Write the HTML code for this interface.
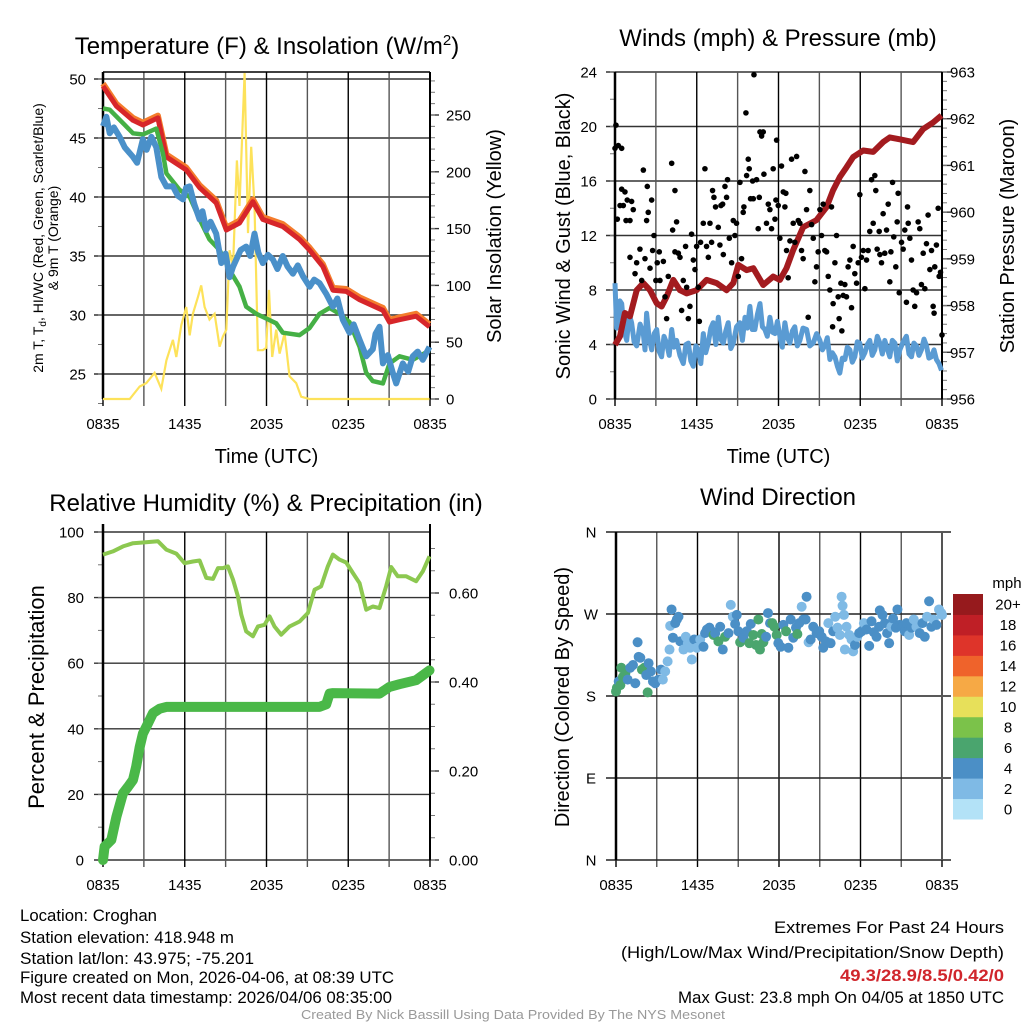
<!DOCTYPE html>
<html><head><meta charset="utf-8"><style>
html,body{margin:0;padding:0;background:#fff;}
svg{display:block;font-family:"Liberation Sans",Arial,sans-serif;}
</style></head><body>
<svg id="root" width="1024" height="1024" viewBox="0 0 1024 1024" xmlns="http://www.w3.org/2000/svg">
<g id="p1"></g>
<g id="p2"></g>
<g id="p3"></g>
<g id="p4"></g>
<g id="info">
<text x="20" y="921" font-size="17" textLength="137" lengthAdjust="spacingAndGlyphs">Location: Croghan</text>
<text x="20" y="943" font-size="17" textLength="214" lengthAdjust="spacingAndGlyphs">Station elevation: 418.948 m</text>
<text x="20" y="964" font-size="17" textLength="234" lengthAdjust="spacingAndGlyphs">Station lat/lon: 43.975; -75.201</text>
<text x="20" y="983" font-size="17" textLength="374" lengthAdjust="spacingAndGlyphs">Figure created on Mon, 2026-04-06, at 08:39 UTC</text>
<text x="20" y="1003" font-size="17" textLength="372" lengthAdjust="spacingAndGlyphs">Most recent data timestamp: 2026/04/06 08:35:00</text>
<text x="1004" y="933" font-size="17" text-anchor="end" textLength="230" lengthAdjust="spacingAndGlyphs">Extremes For Past 24 Hours</text>
<text x="1004" y="958" font-size="17" text-anchor="end" textLength="383" lengthAdjust="spacingAndGlyphs">(High/Low/Max Wind/Precipitation/Snow Depth)</text>
<text x="1004" y="981" font-size="17" font-weight="bold" fill="#d0262c" text-anchor="end" textLength="164" lengthAdjust="spacingAndGlyphs">49.3/28.9/8.5/0.42/0</text>
<text x="1004" y="1003" font-size="17" text-anchor="end" textLength="326" lengthAdjust="spacingAndGlyphs">Max Gust: 23.8 mph On 04/05 at 1850 UTC</text>
<text x="513" y="1019" font-size="13" fill="#999" text-anchor="middle" textLength="424" lengthAdjust="spacingAndGlyphs">Created By Nick Bassill Using Data Provided By The NYS Mesonet</text>
</g>
</svg>
<script>
// ---------- data ----------
const timeTicks = ["0835","1435","2035","0235","0835"];
const tempT = [0,0.98,2.2,2.93,4.03,4.65,6.11,7.09,8.31,9.05,10.02,11,11.73,13.2,14.43,15.16,16.14,16.87,17.85,18.83,20.54,21.03,21.76,22.98,23.96];
const tempV = [49.4,47.7,46.5,46.1,46.7,43.4,42.3,40.8,39.5,37.2,37.8,39.6,38.1,37.5,36.4,35.5,34.1,32.1,32.0,31.3,30.4,29.4,29.6,29.9,29.0];
const temp9mV = [49.6,47.9,46.7,46.3,46.9,43.6,42.5,41.0,39.7,37.4,38.0,39.8,38.3,37.7,36.6,35.7,34.3,32.3,32.2,31.5,30.6,29.6,29.8,30.1,29.2];
const dewT = [0,0.49,2.2,2.93,3.91,4.4,4.65,5.62,6.36,7.09,7.82,8.56,9.29,10.02,10.51,11.25,11.98,12.71,13.2,14.43,15.16,15.89,16.63,17.36,18.09,18.83,19.32,19.8,20.54,21.03,21.76,22.74,23.96];
const dewV = [47.5,47.4,45.4,45.3,45.8,43.7,42,40.6,40,38.1,36.4,35.5,33.8,32.4,30.7,30.1,29.7,29.3,28.5,28.3,28.9,30.1,30.6,30.1,29.4,27.3,25.1,24.4,24.2,25.9,26.5,26.2,27.0];
const chillT = [0,0.25,0.49,0.8,1.22,1.6,2.2,2.5,2.93,3.2,3.55,3.91,4.28,4.65,5.13,5.5,5.87,6.1,6.36,6.7,7.09,7.3,7.58,7.9,8.31,8.68,9.0,9.29,9.55,9.78,10.1,10.51,10.8,11.12,11.4,11.73,12.1,12.47,12.8,13.2,13.55,13.94,14.3,14.67,15.16,15.5,15.89,16.38,16.87,17.2,17.6,18.09,18.4,18.83,19.32,19.8,20.0,20.29,20.54,20.9,21.27,21.52,22.0,22.4,22.74,23.1,23.47,23.96];
const chillV = [46,46.8,45.4,45.9,45.1,44.2,43.4,42.9,44.9,44.0,45.1,44.2,41.7,40.9,40.9,40.1,39.8,40.8,40.9,39.4,38.1,38.8,37.2,37.9,36.9,34.4,35.2,33.2,34.1,34.7,35.5,35.8,35.0,36.9,35.3,34.4,35.1,34.7,33.9,35,34.1,33.5,34.2,33.3,32.4,33.0,32.7,31.8,30.7,31.4,29.6,28.5,29.2,27.9,26.5,27.1,28.4,29,25.9,26.6,25.1,24.2,25.9,25.2,26.5,26.9,26.2,27.3];
const solarT = [0,1.96,2.69,3.18,3.79,4.28,4.65,5.13,5.38,5.75,6.11,6.36,6.6,6.97,7.21,7.46,7.82,8.19,8.56,8.8,9.05,9.29,9.54,9.83,10.02,10.39,10.64,10.88,11.12,11.37,11.73,11.98,12.18,12.42,12.71,12.96,13.33,13.69,14.18,14.55,15.16,23.96];
const solarV = [0,0,11,14,23,9,34,52,37,65,81,56,75,90,100,81,70,75,46,55,61,131,116,210,170,287,146,222,170,43,43,45,96,37,61,40,58,20,14,2,0,0];

const presT = [0,0.37,0.73,1.1,1.59,2.08,2.57,3.06,3.42,3.79,4.28,4.77,5.26,5.99,6.72,7.46,8.19,8.68,9.05,9.66,10.15,10.88,11.61,12.1,12.59,13.08,13.81,14.79,15.53,16.01,16.5,16.99,17.48,18.22,18.95,19.68,20.17,20.9,21.88,22.62,23.35,23.96];
const presV = [957.16,957.34,957.84,957.77,958.33,958.48,958.33,958.05,957.98,958.19,958.55,958.33,958.26,958.33,958.55,958.48,958.33,958.48,958.87,958.76,958.8,958.44,958.62,958.55,958.8,959.19,959.68,959.83,960.11,960.47,960.75,960.96,961.18,961.32,961.29,961.5,961.6,961.56,961.5,961.78,961.92,962.07];
const windT = [0,0.12,0.24,0.36,0.49,0.67,0.86,1.04,1.22,1.4,1.59,1.84,2.08,2.2,2.32,2.5,2.69,2.88,3.06,3.24,3.42,3.6,3.79,3.98,4.16,4.34,4.52,4.76,5.01,5.2,5.38,5.56,5.75,5.93,6.11,6.3,6.48,6.66,6.85,7.03,7.21,7.4,7.58,7.76,7.95,8.13,8.31,8.5,8.68,8.92,9.17,9.35,9.54,9.72,9.9,10.08,10.27,10.45,10.64,10.82,11,11.18,11.37,11.55,11.74,11.92,12.1,12.28,12.47,12.65,12.84,13.02,13.2,13.38,13.57,13.8,14.06,14.3,14.55,14.8,15.04,15.22,15.4,15.58,15.77,15.95,16.14,16.32,16.5,16.68,16.87,17.05,17.24,17.42,17.6,17.78,17.97,18.15,18.34,18.52,18.7,18.88,19.07,19.25,19.44,19.62,19.8,19.98,20.17,20.35,20.54,20.72,20.9,21.15,21.39,21.58,21.76,21.94,22.13,22.31,22.49,22.68,22.86,23.04,23.23,23.41,23.59,23.78,23.96];
const windV = [8.5,5.2,6,7.2,7,5.0,4.3,6.2,5.6,4.2,3.9,5.5,4.8,3.6,6.3,4.5,3.6,4.8,5.1,3.5,3.1,4.6,4.1,3.2,5.1,3.8,4.3,3.2,2.6,4.0,4.1,2.8,2.4,3.9,3.6,2.6,4.8,3.4,4.1,5.2,5.6,4.0,6,4.4,4.1,5.0,5.6,3.7,4.1,5.3,5.6,4.3,6,5.2,6.8,5.1,5.1,6.2,7,5.3,5.1,4.6,6,4.9,4.8,5.7,4.6,3.8,5.6,4.5,4.1,5.0,5.3,3.9,4.3,5.2,5.1,3.9,4.1,4.8,4.3,3.6,3.9,4.5,2.9,3.4,3.1,2.4,1.9,3.0,2.9,3.8,3.6,2.7,3.1,4.2,4.1,3.0,3.4,4.0,4.3,3.2,3.6,4.6,4.1,3.3,4.3,3.7,3.1,4.3,4.1,2.8,3.6,4.2,4.6,3.3,3.1,4.1,3.9,3.2,3.6,4.4,3.9,3.0,3.1,3.6,2.9,2.6,2.1];
const gustT = [0,0.07,0.24,0.49,0.17,0.37,0.61,0.49,0.73,0.81,0.9,1.1,1.22,1.1,1.34,1.47,1.59,1.83,1.96,2.08,2.2,2.32,2.37,2.44,2.57,2.69,2.76,2.86,3.0,3.1,3.25,3.3,3.55,3.67,3.79,3.91,4.16,4.23,4.4,4.4,4.52,4.65,4.77,4.89,5.01,5.18,5.26,5.38,5.5,5.62,5.75,5.87,5.99,6.11,6.19,6.28,6.48,6.6,6.72,6.85,6.97,7.09,7.16,7.26,7.38,7.58,7.7,7.78,7.9,7.95,8.07,8.19,8.26,8.39,8.56,8.68,8.8,8.92,9.05,9.17,9.29,9.41,9.46,9.61,9.66,9.78,9.85,9.95,10.1,10.15,10.2,10.39,10.51,10.59,10.64,10.76,10.88,10.93,11.12,11.25,11.37,11.49,11.61,11.74,11.81,11.86,11.98,12.1,12.22,12.35,12.47,12.54,12.59,12.71,12.84,12.96,13.08,13.2,13.33,13.45,13.57,13.69,13.81,13.94,14.06,14.18,14.3,14.43,14.55,14.67,14.79,14.91,15.04,15.16,15.28,15.4,15.53,15.65,15.77,15.89,15.97,16.01,16.14,16.26,16.38,16.45,16.58,16.65,16.75,16.87,16.99,17.11,17.24,17.36,17.48,17.6,17.73,17.85,17.97,18.09,18.22,18.34,18.46,18.58,18.7,18.83,18.95,19.07,19.14,19.24,19.39,19.44,19.56,19.68,19.8,19.93,20.05,20.17,20.25,20.37,20.46,20.61,20.71,20.78,20.86,21.03,21.15,21.27,21.39,21.47,21.52,21.64,21.76,21.88,22,22.13,22.25,22.37,22.49,22.62,22.74,22.86,22.98,23.11,23.23,23.35,23.42,23.47,23.59,23.72,23.79,23.89,24.0];
const gustV = [18.4,20.1,18.6,18.4,13.2,14.2,14.2,15.4,15.2,13.1,14.6,13.1,14.5,10.4,13.9,9.2,10,11,8.7,16.8,10.3,13.1,15.6,13.7,9.6,14.6,10.9,12,8.7,10,10.8,8.7,10.1,7.5,5.9,9,17.3,12.4,15.3,10.8,13,10.7,10.4,6.5,8.7,11.2,8.2,5.9,6.8,12.1,10.2,9.5,11.2,8.2,5.7,11.5,12.9,16.9,11.2,10.4,12.9,11.5,15.3,14.8,14.1,12.6,11.3,14.2,14.3,10.6,15.6,14.8,16.1,11.8,10,13.1,12,12.9,9,15.9,10.3,13.7,14.1,21,16.4,17.6,16.9,14.7,16,14.7,23.8,16.1,12.5,14.8,19.6,19.3,19.6,16.5,12.9,14.3,13.9,12.5,16.9,13.2,14.6,19,14.2,11.8,17.1,15.2,14.1,15.1,10.9,8.9,11.6,17.6,12.9,11.5,17.8,13.1,12.9,10.9,10.3,16.7,13.9,6,15.3,12.8,11.8,8.6,9.7,10.8,13.9,12,14.3,10.9,10.8,9,8,14.1,5.3,7,10,12,7.5,5.9,8.5,5,7.6,8.4,7.5,9.7,10.2,6.7,11.2,9.2,8.5,10,15,10.4,10.9,8.1,10.2,10.9,12.3,16.1,12.9,16.4,15.3,11,12.3,10.6,10,13.6,10.7,12.4,14.3,8.6,10.8,15.9,11.9,9.7,13,15.1,7.8,11.5,11,12.4,7.1,14.1,12.9,11.8,10.2,8,6.8,7.8,13,12.5,8.4,10.7,8.1,11.4,13.5,9.5,10.9,6.8,6.3,9.7,11.3,14,9,9.3,4.7];

const rhT = [0,0.73,1.47,2.2,2.93,4.03,4.65,5.38,5.99,6.6,7.09,7.58,8.07,8.44,8.8,9.17,9.54,9.9,10.15,10.51,11,11.37,11.86,12.22,12.59,13.08,13.69,14.43,15.04,15.53,16.01,16.5,16.87,17.36,17.85,18.34,18.83,19.32,19.8,20.29,20.78,21.15,21.64,22.25,22.98,23.47,23.96];
const rhV = [93.1,94.1,95.6,96.6,96.8,97.2,94.6,93.4,90.5,91,91.3,86,85.7,89,89,89.5,85.5,80.4,74.8,69.7,68.2,71.2,71.7,74.3,71.2,68.7,71.2,72.7,75.3,82.4,83.4,89.5,93.1,91.6,90.7,87.5,84.4,76.3,77.3,76.8,83.4,89.3,86.5,86.5,85,88,92.6];
const precipT = [0,0.12,0.61,0.98,1.47,1.83,2.2,2.44,2.69,2.93,3.3,3.67,4.16,4.65,15.89,16.38,16.63,16.87,20.29,21.03,21.76,22.98,23.47,23.96];
const precipV = [0,0.03,0.045,0.097,0.15,0.164,0.18,0.21,0.254,0.284,0.307,0.33,0.34,0.344,0.344,0.35,0.374,0.375,0.374,0.389,0.395,0.404,0.415,0.426];

const dirT = [0,0.07,0.2,0.32,0.39,0.51,0.69,0.86,1.05,1.25,1.42,1.59,1.67,1.79,1.91,2.08,2.23,2.33,2.4,2.57,2.72,2.89,3.13,3.31,3.45,3.62,3.8,3.94,3.99,4.09,4.19,4.36,4.48,4.6,4.73,4.97,5.14,5.29,5.46,5.58,5.76,5.95,6.2,6.44,6.56,6.69,6.88,7.05,7.18,7.3,7.54,7.67,7.86,8.03,8.28,8.45,8.6,8.77,8.89,9.01,9.14,9.38,9.63,9.82,9.92,10.11,10.31,10.48,10.6,10.73,10.85,11.05,11.19,11.34,11.51,11.66,11.83,11.95,12.12,12.32,12.52,12.69,12.86,13.05,13.25,13.35,13.49,13.67,13.79,13.96,14.03,14.18,14.33,14.52,14.77,14.96,15.14,15.26,15.45,15.63,15.8,15.99,16.14,16.31,16.48,16.61,16.68,16.78,16.85,16.97,17.17,17.34,17.46,17.59,17.76,17.9,18.08,18.25,18.44,18.64,18.81,18.98,19.18,19.37,19.42,19.62,19.79,19.96,20.11,20.28,20.4,20.6,20.72,20.89,21.09,21.26,21.38,21.58,21.75,21.92,22.12,22.36,22.56,22.73,22.9,23.05,23.22,23.39,23.59,23.78,23.95,24];
const dirV = [185,189,196,192,211,201,205,198,211,214,194,239,223,222,209,211,203,184,216,207,196,194,198,209,198,207,218,231,257,275,244,260,264,267,240,231,245,238,233,220,242,233,242,234,249,253,255,251,247,249,240,256,231,245,249,280,267,259,269,251,239,244,251,238,259,247,236,264,231,248,239,245,271,260,260,256,247,238,234,258,251,233,264,244,255,248,260,278,264,264,289,239,242,256,249,251,245,233,240,260,238,251,267,255,247,289,279,269,231,256,247,242,229,236,245,249,251,260,253,235,262,250,245,256,274,269,260,249,238,256,265,255,275,258,256,251,260,247,255,264,256,249,260,245,267,284,256,264,258,275,271,269];
const dirSpd = [7,7,5,7,6.5,6.5,7,5,5,5,5,5,5,5,6.5,7,5,6.5,5,5,5,5,5,5,2,2,2,2,2,5,5,5,5,5,5,2,2,2,2,2,5,2,2,5,5,5,5,5,6.5,5,6.5,5,5,6.5,5,2,2,5,5,5,6.5,5,5,6.5,5,6.5,6.5,6.5,6.5,6.5,6.5,5,5,5,6.5,6.5,6.5,5,5,5,6.5,5,5,5,5,6.5,5,2,5,5,5,2,5,5,5,5,5,5,5,2,5,5,2,2,2,2,2,2,2,2,2,2,2,5,2,5,5,2,5,5,5,5,5,5,5,5,5,5,5,2,5,5,5,5,5,5,5,2,5,2,2,5,5,5,2,5,5,2,5,2,2,2,2];
const speedBins = ["0","2","4","6","8","10","12","14","16","18","20+"];
const speedColors = ["#b3e2f7","#7fbae5","#4b8fc6","#4aa56e","#7bc24a","#e7e05a","#f6a945","#ef632b","#de342a","#bf1f26","#961a1d"];
const dirLabels = ["N","E","S","W","N"];

// ---------- helpers ----------
const NS="http://www.w3.org/2000/svg";
function mk(parent,tag,attrs,text){const e=document.createElementNS(NS,tag);for(const k in attrs)e.setAttribute(k,attrs[k]);if(text!==undefined)e.textContent=text;parent.appendChild(e);return e;}
function lin(d0,d1,r0,r1){return v=>r0+(v-d0)/(d1-d0)*(r1-r0);}
function pathD(ts,vs,fx,fy){return ts.map((t,i)=>(i?"L":"M")+fx(t).toFixed(1)+","+fy(vs[i]).toFixed(1)).join("");}

function frame(g,X0,X1,Y0,Y1,opt){
  const gx=lin(0,24,X0,X1);
  for(let h=0;h<=24;h+=3){
    const l=mk(g,"line",{x1:gx(h),x2:gx(h),y1:Y0,y2:Y1+7,stroke:(h%6===0?"#000":"#555"),"stroke-width":1.4});
    
    
  }
  timeTicks.forEach((s,i)=>{
    const t=mk(g,"text",{x:gx(i*6),y:Y1+30,"font-size":15,"text-anchor":"middle"},s);
    
    
  });
  if(opt.timeTitle){
    const t=mk(g,"text",{x:(X0+X1)/2,y:Y1+64,"font-size":20,"text-anchor":"middle"},"Time (UTC)");
    
    
  }
  return gx;
}
function yAxis(g,X0,X1,fy,ticks,labels,minor,side,grid,labelX){
  ticks.forEach((v,i)=>{
    const y=fy(v);
    if(grid){
      const l=mk(g,"line",{x1:X0-9,x2:X1,y1:y,y2:y,stroke:"#333","stroke-width":1.4});
      
      
    } else {
      mk(g,"line",{x1:X1,x2:X1+9,y1:y,y2:y,stroke:"#333","stroke-width":1.4});
    }
    const t=mk(g,"text",{x:labelX,y:y+5.5,"font-size":15,"text-anchor":grid?"end":"start"},labels[i]);
    
    
  });
  minor.forEach(v=>{const y=fy(v);
    if(grid) mk(g,"line",{x1:X0-5,x2:X0,y1:y,y2:y,stroke:"#777","stroke-width":1});
    else mk(g,"line",{x1:X1,x2:X1+5,y1:y,y2:y,stroke:"#777","stroke-width":1});});
}
function vtext(g,x,y,size,str,name){
  const t=mk(g,"text",{x:x,y:y,"font-size":size,"text-anchor":"middle",transform:`rotate(-90 ${x} ${y})`},str);
  
  
  return t;
}
function title(g,x,y,str,name){
  const t=mk(g,"text",{x:x,y:y,"font-size":24,"text-anchor":"middle"},str);
  
  
  return t;
}
function range(a,b,s){const r=[];for(let v=a;v<=b+1e-9;v+=s)r.push(+v.toFixed(3));return r;}

// ---------- panel 1 ----------
(function(){
  const g=document.getElementById("p1");
  const X0=103,X1=430,Y0=72,Y1=399;
  const fy=lin(25,50,374,79), fs=lin(0,250,399,115);
  const t=mk(g,"text",{x:267,y:54,"font-size":24,"text-anchor":"middle"});
  
  
  t.innerHTML='Temperature (F) &amp; Insolation (W/m<tspan dy="-9" font-size="15">2</tspan><tspan dy="9">)</tspan>';
  yAxis(g,X0,X1,fy,[25,30,35,40,45,50],["25","30","35","40","45","50"],range(22.5,50,2.5),"",true,86);
  yAxis(g,X0,X1,fs,[0,50,100,150,200,250],["0","50","100","150","200","250"],range(0,280,10),"",false,446);
  const gx=frame(g,X0,X1,Y0,Y1,{timeTitle:true});
  mk(g,"line",{x1:X0,x2:X1,y1:Y0,y2:Y0,stroke:"#000","stroke-width":1.4});
  mk(g,"line",{x1:X0,x2:X0,y1:Y0,y2:Y1,stroke:"#000","stroke-width":2.5});
  mk(g,"line",{x1:X1,x2:X1,y1:Y0,y2:Y1,stroke:"#000","stroke-width":2});
  const s1=mk(g,"path",{d:pathD(solarT,solarV,gx,fs),fill:"none",stroke:"#fde25a","stroke-width":2.2});
  
  
  const o=mk(g,"path",{d:pathD(tempT,temp9mV,gx,fy),fill:"none",stroke:"#f47c2c","stroke-width":6,"stroke-linejoin":"round"});
  
  
  const r=mk(g,"path",{d:pathD(tempT,tempV,gx,fy),fill:"none",stroke:"#d7262a","stroke-width":5,"stroke-linejoin":"round"});
  
  
  const gr=mk(g,"path",{d:pathD(dewT,dewV,gx,fy),fill:"none",stroke:"#45b045","stroke-width":4.5,"stroke-linejoin":"round"});
  
  
  const b=mk(g,"path",{d:pathD(chillT,chillV,gx,fy),fill:"none",stroke:"#4a90c9","stroke-width":6,"stroke-linejoin":"round"});
  
  
  const a=vtext(g,43,238,14,"2m T, T","left-axis-title");
  a.innerHTML='2m T, T<tspan dy="3" font-size="10">d</tspan><tspan dy="-3">, HI/WC (Red, Green, Scarlet/Blue)</tspan>';
  vtext(g,58,238,14,"& 9m T (Orange)","left-axis-title-line2");
  vtext(g,501,236,20,"Solar Insolation (Yellow)","right-axis-title");
})();

// ---------- panel 2 ----------
(function(){
  const g=document.getElementById("p2");
  const X0=615,X1=942,Y0=72,Y1=399;
  const fy=lin(0,24,399,72), fp=lin(956,963,399,72);
  title(g,778,46,"Winds (mph) & Pressure (mb)","chart-title");
  yAxis(g,X0,X1,fy,[0,4,8,12,16,20,24],["0","4","8","12","16","20","24"],range(0,24,2),"",true,597);
  yAxis(g,X0,X1,fp,[956,957,958,959,960,961,962,963],["956","957","958","959","960","961","962","963"],range(956,963,0.2),"",false,950);
  const gx=frame(g,X0,X1,Y0,Y1,{timeTitle:true});
  mk(g,"line",{x1:X0,x2:X0,y1:Y0,y2:Y1,stroke:"#000","stroke-width":2.5});
  mk(g,"line",{x1:X1,x2:X1,y1:Y0,y2:Y1,stroke:"#000","stroke-width":2});
  const w=mk(g,"path",{d:pathD(windT,windV,gx,fy),fill:"none",stroke:"#5a9bd3","stroke-width":5,"stroke-linejoin":"round"});
  
  
  const p=mk(g,"path",{d:pathD(presT,presV,gx,fp),fill:"none",stroke:"#a31b1f","stroke-width":6,"stroke-linejoin":"round"});
  
  
  gustT.forEach((t,i)=>{
    const c=mk(g,"circle",{cx:gx(t),cy:fy(gustV[i]),r:2.8,fill:"#000"});
    
    
  });
  vtext(g,570,236,20,"Sonic Wind & Gust (Blue, Black)","left-axis-title");
  vtext(g,1014,236,20,"Station Pressure (Maroon)","right-axis-title");
})();

// ---------- panel 3 ----------
(function(){
  const g=document.getElementById("p3");
  const X0=103,X1=430,Y0=532,Y1=860;
  const fy=lin(0,100,860,532), fp=lin(0,0.4,860,682);
  title(g,266,511,"Relative Humidity (%) & Precipitation (in)","chart-title");
  yAxis(g,X0,X1,fy,[0,20,40,60,80,100],["0","20","40","60","80","100"],range(0,100,10),"",true,84);
  yAxis(g,X0,X1,fp,[0,0.2,0.4,0.6],["0.00","0.20","0.40","0.60"],range(0,0.7,0.05),"",false,449);
  const gx=frame(g,X0,X1,Y0,Y1,{timeTitle:false});
  mk(g,"line",{x1:X0,x2:X0,y1:Y0-8,y2:Y1,stroke:"#000","stroke-width":2.5});
  mk(g,"line",{x1:X1,x2:X1,y1:Y0-8,y2:Y1,stroke:"#000","stroke-width":2});
  const r=mk(g,"path",{d:pathD(rhT,rhV,gx,fy),fill:"none",stroke:"#8cc850","stroke-width":4,"stroke-linejoin":"round"});
  
  
  const p=mk(g,"path",{d:pathD(precipT,precipV,gx,fp),fill:"none",stroke:"#4ab848","stroke-width":10,"stroke-linejoin":"round","stroke-linecap":"round"});
  
  
  vtext(g,44,697,22,"Percent & Precipitation","left-axis-title");
})();

// ---------- panel 4 ----------
(function(){
  const g=document.getElementById("p4");
  const X0=616,X1=942,Y0=532,Y1=860;
  const fy=lin(0,360,860,532);
  title(g,778,505,"Wind Direction","chart-title");
  const gx=frame(g,X0,X1,Y0,Y1,{timeTitle:false});
  dirLabels.forEach((s,i)=>{
    const y=fy(i*90);
    const l=mk(g,"line",{x1:X0-10,x2:X1+9,y1:y,y2:y,stroke:"#222","stroke-width":1.4});
    
    
    const t=mk(g,"text",{x:591,y:y+5.5,"font-size":15,"text-anchor":"middle"},s);
    
    
  });
  mk(g,"line",{x1:X0,x2:X0,y1:Y0,y2:Y1,stroke:"#000","stroke-width":2.5});
  mk(g,"line",{x1:X1,x2:X1,y1:Y0,y2:Y1,stroke:"#555","stroke-width":2});
  dirT.forEach((t,i)=>{
    const bin=Math.min(10,Math.floor(dirSpd[i]/2));
    const c=mk(g,"circle",{cx:gx(t),cy:fy(dirV[i]),r:5,fill:speedColors[bin]});
    
    
  });
  vtext(g,569,697,20,"Direction (Colored By Speed)","left-axis-title");
  const cbTop=594, cbBot=819, h=(cbBot-cbTop)/speedBins.length;
  const u=mk(g,"text",{x:1007,y:588,"font-size":15,"text-anchor":"middle"},"mph");
  
  
  speedBins.forEach((s,i)=>{
    const y=cbBot-(i+1)*h;
    const r=mk(g,"rect",{x:953,y:y,width:30,height:h+0.5,fill:speedColors[i]});
    
    
    const t=mk(g,"text",{x:1008,y:y+h/2+5.5,"font-size":15,"text-anchor":"middle"},s);
    
    
  });
})();
</script>
</body></html>
